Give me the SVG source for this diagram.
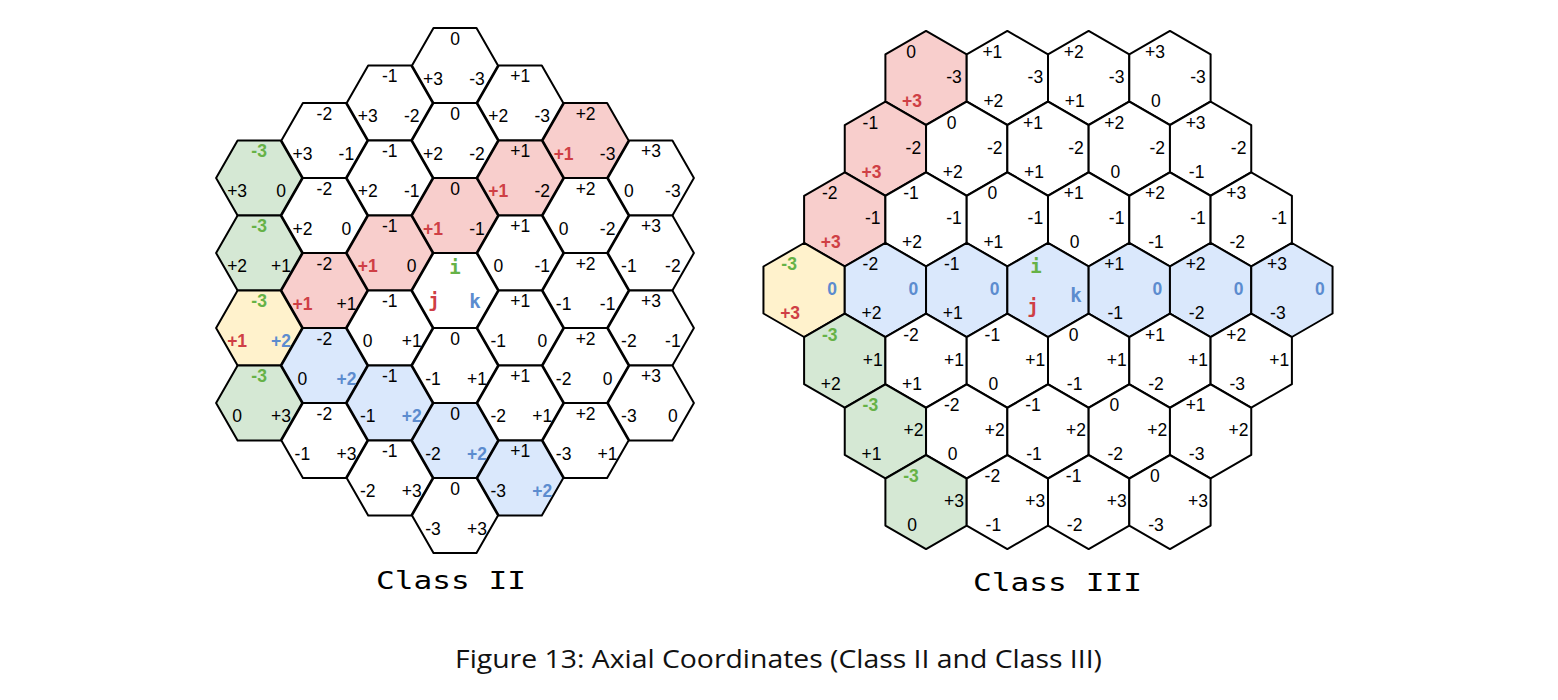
<svg xmlns="http://www.w3.org/2000/svg" xmlns:xlink="http://www.w3.org/1999/xlink" width="1558" height="700" viewBox="0 0 1558 700">
<style>
.h{stroke:#000;stroke-width:2;stroke-linejoin:round;fill:#fff}
.gr{fill:#d5e8d4}.rd{fill:#f8cecc}.bl{fill:#dae8fc}.yl{fill:#fff2cc}
text{font-family:"Liberation Sans",Arial,sans-serif;font-size:17.5px;text-anchor:middle;fill:#000}
text.G{fill:#66b247;font-weight:bold;font-size:17.5px}
text.R{fill:#cf3f45;font-weight:bold;font-size:17.5px}
text.B{fill:#5c8ccf;font-weight:bold;font-size:17.5px}
text.m{font-family:"DejaVu Sans Mono",monospace;font-weight:bold;font-size:19px}
text.t{font-family:"DejaVu Sans Mono",monospace;font-size:25px}
text.cap{font-family:"Open Sans",sans-serif;font-size:25px;fill:#111}
</style>
<defs>
<polygon id="hf" points="-43,0 -21.5,-37.5 21.5,-37.5 43,0 21.5,37.5 -21.5,37.5"/>
<polygon id="hp" points="0,-47 40.65,-23.5 40.65,23.5 0,47 -40.65,23.5 -40.65,-23.5"/>
</defs>
<rect width="1558" height="700" fill="#fff"/>
<g id="connectors"/>
<g id="class2">
<g id="c2_qm3_k0" transform="translate(259.1,178)"><use href="#hf" class="h gr"/><text class="G" y="-21">-3</text><text x="-22" y="19">+3</text><text x="22" y="19">0</text></g>
<g id="c2_qm3_k1" transform="translate(259.1,253)"><use href="#hf" class="h gr"/><text class="G" y="-21">-3</text><text x="-22" y="19">+2</text><text x="22" y="19">+1</text></g>
<g id="c2_qm3_k2" transform="translate(259.1,328)"><use href="#hf" class="h yl"/><text class="G" y="-21">-3</text><text class="R" x="-22" y="19">+1</text><text class="B" x="22" y="19">+2</text></g>
<g id="c2_qm3_k3" transform="translate(259.1,403)"><use href="#hf" class="h gr"/><text class="G" y="-21">-3</text><text x="-22" y="19">0</text><text x="22" y="19">+3</text></g>
<g id="c2_qm2_km1" transform="translate(324.4,140.5)"><use href="#hf" class="h"/><text y="-21">-2</text><text x="-22" y="19">+3</text><text x="22" y="19">-1</text></g>
<g id="c2_qm2_k0" transform="translate(324.4,215.5)"><use href="#hf" class="h"/><text y="-21">-2</text><text x="-22" y="19">+2</text><text x="22" y="19">0</text></g>
<g id="c2_qm2_k1" transform="translate(324.4,290.5)"><use href="#hf" class="h rd"/><text y="-21">-2</text><text class="R" x="-22" y="19">+1</text><text x="22" y="19">+1</text></g>
<g id="c2_qm2_k2" transform="translate(324.4,365.5)"><use href="#hf" class="h bl"/><text y="-21">-2</text><text x="-22" y="19">0</text><text class="B" x="22" y="19">+2</text></g>
<g id="c2_qm2_k3" transform="translate(324.4,440.5)"><use href="#hf" class="h"/><text y="-21">-2</text><text x="-22" y="19">-1</text><text x="22" y="19">+3</text></g>
<g id="c2_qm1_km2" transform="translate(389.7,103)"><use href="#hf" class="h"/><text y="-21">-1</text><text x="-22" y="19">+3</text><text x="22" y="19">-2</text></g>
<g id="c2_qm1_km1" transform="translate(389.7,178)"><use href="#hf" class="h"/><text y="-21">-1</text><text x="-22" y="19">+2</text><text x="22" y="19">-1</text></g>
<g id="c2_qm1_k0" transform="translate(389.7,253)"><use href="#hf" class="h rd"/><text y="-21">-1</text><text class="R" x="-22" y="19">+1</text><text x="22" y="19">0</text></g>
<g id="c2_qm1_k1" transform="translate(389.7,328)"><use href="#hf" class="h"/><text y="-21">-1</text><text x="-22" y="19">0</text><text x="22" y="19">+1</text></g>
<g id="c2_qm1_k2" transform="translate(389.7,403)"><use href="#hf" class="h bl"/><text y="-21">-1</text><text x="-22" y="19">-1</text><text class="B" x="22" y="19">+2</text></g>
<g id="c2_qm1_k3" transform="translate(389.7,478)"><use href="#hf" class="h"/><text y="-21">-1</text><text x="-22" y="19">-2</text><text x="22" y="19">+3</text></g>
<g id="c2_q0_km3" transform="translate(455,65.5)"><use href="#hf" class="h"/><text y="-21">0</text><text x="-22" y="19">+3</text><text x="22" y="19">-3</text></g>
<g id="c2_q0_km2" transform="translate(455,140.5)"><use href="#hf" class="h"/><text y="-21">0</text><text x="-22" y="19">+2</text><text x="22" y="19">-2</text></g>
<g id="c2_q0_km1" transform="translate(455,215.5)"><use href="#hf" class="h rd"/><text y="-21">0</text><text class="R" x="-22" y="19">+1</text><text x="22" y="19">-1</text></g>
<g id="c2_q0_k0" transform="translate(455,290.5)"><use href="#hf" class="h"/><text class="m" y="-16.5" style="fill:#66b247">i</text><text class="m" x="-21" y="16.5" style="fill:#cf3f45">j</text><text class="m" x="20" y="17.5" style="fill:#5c8ccf">k</text></g>
<g id="c2_q0_k1" transform="translate(455,365.5)"><use href="#hf" class="h"/><text y="-21">0</text><text x="-22" y="19">-1</text><text x="22" y="19">+1</text></g>
<g id="c2_q0_k2" transform="translate(455,440.5)"><use href="#hf" class="h bl"/><text y="-21">0</text><text x="-22" y="19">-2</text><text class="B" x="22" y="19">+2</text></g>
<g id="c2_q0_k3" transform="translate(455,515.5)"><use href="#hf" class="h"/><text y="-21">0</text><text x="-22" y="19">-3</text><text x="22" y="19">+3</text></g>
<g id="c2_q1_km3" transform="translate(520.3,103)"><use href="#hf" class="h"/><text y="-21">+1</text><text x="-22" y="19">+2</text><text x="22" y="19">-3</text></g>
<g id="c2_q1_km2" transform="translate(520.3,178)"><use href="#hf" class="h rd"/><text y="-21">+1</text><text class="R" x="-22" y="19">+1</text><text x="22" y="19">-2</text></g>
<g id="c2_q1_km1" transform="translate(520.3,253)"><use href="#hf" class="h"/><text y="-21">+1</text><text x="-22" y="19">0</text><text x="22" y="19">-1</text></g>
<g id="c2_q1_k0" transform="translate(520.3,328)"><use href="#hf" class="h"/><text y="-21">+1</text><text x="-22" y="19">-1</text><text x="22" y="19">0</text></g>
<g id="c2_q1_k1" transform="translate(520.3,403)"><use href="#hf" class="h"/><text y="-21">+1</text><text x="-22" y="19">-2</text><text x="22" y="19">+1</text></g>
<g id="c2_q1_k2" transform="translate(520.3,478)"><use href="#hf" class="h bl"/><text y="-21">+1</text><text x="-22" y="19">-3</text><text class="B" x="22" y="19">+2</text></g>
<g id="c2_q2_km3" transform="translate(585.6,140.5)"><use href="#hf" class="h rd"/><text y="-21">+2</text><text class="R" x="-22" y="19">+1</text><text x="22" y="19">-3</text></g>
<g id="c2_q2_km2" transform="translate(585.6,215.5)"><use href="#hf" class="h"/><text y="-21">+2</text><text x="-22" y="19">0</text><text x="22" y="19">-2</text></g>
<g id="c2_q2_km1" transform="translate(585.6,290.5)"><use href="#hf" class="h"/><text y="-21">+2</text><text x="-22" y="19">-1</text><text x="22" y="19">-1</text></g>
<g id="c2_q2_k0" transform="translate(585.6,365.5)"><use href="#hf" class="h"/><text y="-21">+2</text><text x="-22" y="19">-2</text><text x="22" y="19">0</text></g>
<g id="c2_q2_k1" transform="translate(585.6,440.5)"><use href="#hf" class="h"/><text y="-21">+2</text><text x="-22" y="19">-3</text><text x="22" y="19">+1</text></g>
<g id="c2_q3_km3" transform="translate(650.9,178)"><use href="#hf" class="h"/><text y="-21">+3</text><text x="-22" y="19">0</text><text x="22" y="19">-3</text></g>
<g id="c2_q3_km2" transform="translate(650.9,253)"><use href="#hf" class="h"/><text y="-21">+3</text><text x="-22" y="19">-1</text><text x="22" y="19">-2</text></g>
<g id="c2_q3_km1" transform="translate(650.9,328)"><use href="#hf" class="h"/><text y="-21">+3</text><text x="-22" y="19">-2</text><text x="22" y="19">-1</text></g>
<g id="c2_q3_k0" transform="translate(650.9,403)"><use href="#hf" class="h"/><text y="-21">+3</text><text x="-22" y="19">-3</text><text x="22" y="19">0</text></g>
</g>
<g id="class3">
<g id="c3_km3_i0" transform="translate(926.05,77.9)"><use href="#hp" class="h rd"/><text x="-15" y="-20">0</text><text x="28" y="5">-3</text><text class="R" x="-14" y="29">+3</text></g>
<g id="c3_km3_i1" transform="translate(1007.35,77.9)"><use href="#hp" class="h"/><text x="-15" y="-20">+1</text><text x="28" y="5">-3</text><text x="-14" y="29">+2</text></g>
<g id="c3_km3_i2" transform="translate(1088.65,77.9)"><use href="#hp" class="h"/><text x="-15" y="-20">+2</text><text x="28" y="5">-3</text><text x="-14" y="29">+1</text></g>
<g id="c3_km3_i3" transform="translate(1169.95,77.9)"><use href="#hp" class="h"/><text x="-15" y="-20">+3</text><text x="28" y="5">-3</text><text x="-14" y="29">0</text></g>
<g id="c3_km2_im1" transform="translate(885.4,148.6)"><use href="#hp" class="h rd"/><text x="-15" y="-20">-1</text><text x="28" y="5">-2</text><text class="R" x="-14" y="29">+3</text></g>
<g id="c3_km2_i0" transform="translate(966.7,148.6)"><use href="#hp" class="h"/><text x="-15" y="-20">0</text><text x="28" y="5">-2</text><text x="-14" y="29">+2</text></g>
<g id="c3_km2_i1" transform="translate(1048,148.6)"><use href="#hp" class="h"/><text x="-15" y="-20">+1</text><text x="28" y="5">-2</text><text x="-14" y="29">+1</text></g>
<g id="c3_km2_i2" transform="translate(1129.3,148.6)"><use href="#hp" class="h"/><text x="-15" y="-20">+2</text><text x="28" y="5">-2</text><text x="-14" y="29">0</text></g>
<g id="c3_km2_i3" transform="translate(1210.6,148.6)"><use href="#hp" class="h"/><text x="-15" y="-20">+3</text><text x="28" y="5">-2</text><text x="-14" y="29">-1</text></g>
<g id="c3_km1_im2" transform="translate(844.75,219.3)"><use href="#hp" class="h rd"/><text x="-15" y="-20">-2</text><text x="28" y="5">-1</text><text class="R" x="-14" y="29">+3</text></g>
<g id="c3_km1_im1" transform="translate(926.05,219.3)"><use href="#hp" class="h"/><text x="-15" y="-20">-1</text><text x="28" y="5">-1</text><text x="-14" y="29">+2</text></g>
<g id="c3_km1_i0" transform="translate(1007.35,219.3)"><use href="#hp" class="h"/><text x="-15" y="-20">0</text><text x="28" y="5">-1</text><text x="-14" y="29">+1</text></g>
<g id="c3_km1_i1" transform="translate(1088.65,219.3)"><use href="#hp" class="h"/><text x="-15" y="-20">+1</text><text x="28" y="5">-1</text><text x="-14" y="29">0</text></g>
<g id="c3_km1_i2" transform="translate(1169.95,219.3)"><use href="#hp" class="h"/><text x="-15" y="-20">+2</text><text x="28" y="5">-1</text><text x="-14" y="29">-1</text></g>
<g id="c3_km1_i3" transform="translate(1251.25,219.3)"><use href="#hp" class="h"/><text x="-15" y="-20">+3</text><text x="28" y="5">-1</text><text x="-14" y="29">-2</text></g>
<g id="c3_k0_im3" transform="translate(804.1,290)"><use href="#hp" class="h yl"/><text class="G" x="-15" y="-20">-3</text><text class="B" x="28" y="5">0</text><text class="R" x="-14" y="29">+3</text></g>
<g id="c3_k0_im2" transform="translate(885.4,290)"><use href="#hp" class="h bl"/><text x="-15" y="-20">-2</text><text class="B" x="28" y="5">0</text><text x="-14" y="29">+2</text></g>
<g id="c3_k0_im1" transform="translate(966.7,290)"><use href="#hp" class="h bl"/><text x="-15" y="-20">-1</text><text class="B" x="28" y="5">0</text><text x="-14" y="29">+1</text></g>
<g id="c3_k0_i0" transform="translate(1048,290)"><use href="#hp" class="h bl"/><text class="m" x="-12" y="-17" style="fill:#66b247">i</text><text class="m" x="28" y="12" style="fill:#5c8ccf">k</text><text class="m" x="-15" y="23" style="fill:#cf3f45">j</text></g>
<g id="c3_k0_i1" transform="translate(1129.3,290)"><use href="#hp" class="h bl"/><text x="-15" y="-20">+1</text><text class="B" x="28" y="5">0</text><text x="-14" y="29">-1</text></g>
<g id="c3_k0_i2" transform="translate(1210.6,290)"><use href="#hp" class="h bl"/><text x="-15" y="-20">+2</text><text class="B" x="28" y="5">0</text><text x="-14" y="29">-2</text></g>
<g id="c3_k0_i3" transform="translate(1291.9,290)"><use href="#hp" class="h bl"/><text x="-15" y="-20">+3</text><text class="B" x="28" y="5">0</text><text x="-14" y="29">-3</text></g>
<g id="c3_k1_im3" transform="translate(844.75,360.7)"><use href="#hp" class="h gr"/><text class="G" x="-15" y="-20">-3</text><text x="28" y="5">+1</text><text x="-14" y="29">+2</text></g>
<g id="c3_k1_im2" transform="translate(926.05,360.7)"><use href="#hp" class="h"/><text x="-15" y="-20">-2</text><text x="28" y="5">+1</text><text x="-14" y="29">+1</text></g>
<g id="c3_k1_im1" transform="translate(1007.35,360.7)"><use href="#hp" class="h"/><text x="-15" y="-20">-1</text><text x="28" y="5">+1</text><text x="-14" y="29">0</text></g>
<g id="c3_k1_i0" transform="translate(1088.65,360.7)"><use href="#hp" class="h"/><text x="-15" y="-20">0</text><text x="28" y="5">+1</text><text x="-14" y="29">-1</text></g>
<g id="c3_k1_i1" transform="translate(1169.95,360.7)"><use href="#hp" class="h"/><text x="-15" y="-20">+1</text><text x="28" y="5">+1</text><text x="-14" y="29">-2</text></g>
<g id="c3_k1_i2" transform="translate(1251.25,360.7)"><use href="#hp" class="h"/><text x="-15" y="-20">+2</text><text x="28" y="5">+1</text><text x="-14" y="29">-3</text></g>
<g id="c3_k2_im3" transform="translate(885.4,431.4)"><use href="#hp" class="h gr"/><text class="G" x="-15" y="-20">-3</text><text x="28" y="5">+2</text><text x="-14" y="29">+1</text></g>
<g id="c3_k2_im2" transform="translate(966.7,431.4)"><use href="#hp" class="h"/><text x="-15" y="-20">-2</text><text x="28" y="5">+2</text><text x="-14" y="29">0</text></g>
<g id="c3_k2_im1" transform="translate(1048,431.4)"><use href="#hp" class="h"/><text x="-15" y="-20">-1</text><text x="28" y="5">+2</text><text x="-14" y="29">-1</text></g>
<g id="c3_k2_i0" transform="translate(1129.3,431.4)"><use href="#hp" class="h"/><text x="-15" y="-20">0</text><text x="28" y="5">+2</text><text x="-14" y="29">-2</text></g>
<g id="c3_k2_i1" transform="translate(1210.6,431.4)"><use href="#hp" class="h"/><text x="-15" y="-20">+1</text><text x="28" y="5">+2</text><text x="-14" y="29">-3</text></g>
<g id="c3_k3_im3" transform="translate(926.05,502.1)"><use href="#hp" class="h gr"/><text class="G" x="-15" y="-20">-3</text><text x="28" y="5">+3</text><text x="-14" y="29">0</text></g>
<g id="c3_k3_im2" transform="translate(1007.35,502.1)"><use href="#hp" class="h"/><text x="-15" y="-20">-2</text><text x="28" y="5">+3</text><text x="-14" y="29">-1</text></g>
<g id="c3_k3_im1" transform="translate(1088.65,502.1)"><use href="#hp" class="h"/><text x="-15" y="-20">-1</text><text x="28" y="5">+3</text><text x="-14" y="29">-2</text></g>
<g id="c3_k3_i0" transform="translate(1169.95,502.1)"><use href="#hp" class="h"/><text x="-15" y="-20">0</text><text x="28" y="5">+3</text><text x="-14" y="29">-3</text></g>
</g>
<g id="titles">
<text class="t" x="451" y="589" textLength="150" lengthAdjust="spacingAndGlyphs">Class II</text>
<text class="t" x="1057.5" y="591" textLength="169" lengthAdjust="spacingAndGlyphs">Class III</text>
<text class="cap" x="778.5" y="668" textLength="647" lengthAdjust="spacingAndGlyphs">Figure 13: Axial Coordinates (Class II and Class III)</text>
</g>
</svg>
